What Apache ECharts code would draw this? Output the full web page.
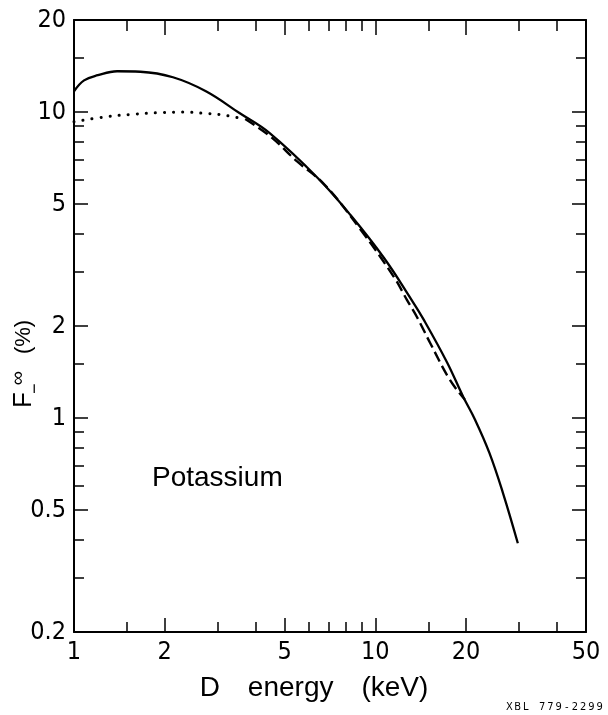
<!DOCTYPE html>
<html>
<head>
<meta charset="utf-8">
<script src="https://cdn.jsdelivr.net/npm/echarts@6/dist/echarts.min.js"></script>
<style>
html,body{margin:0;padding:0;background:#fff;}
#chart{width:608px;height:715px;}
</style>
</head>
<body>
<div id="chart"></div>
<script>
// ---- data ----
var solidX = [1, 1.08, 1.2, 1.39, 1.66, 2.13, 2.74, 3.54, 4.45, 6.45, 8.27, 10.7, 13.2, 14.5, 17.3, 19.6, 21.4, 23.9, 26.5, 29.7];
var solidY = [11.7, 12.7, 13.2, 13.6, 13.55, 13.0, 11.7, 9.93, 8.55, 6.08, 4.61, 3.33, 2.43, 2.09, 1.52, 1.17, 0.99, 0.77, 0.57, 0.39];
var dotX = [1, 1.28, 1.6, 1.88, 2.3, 2.74, 3.1, 3.36, 3.71];
var dotY = [9.3, 9.66, 9.85, 9.95, 10.0, 9.9, 9.8, 9.66, 9.5];
var dashX = [3.7, 4.5, 5.5, 6.8, 8.95, 11.5, 12.74, 13.74, 15.2, 17.7, 19.8];
var dashY = [9.5, 8.3, 6.9, 5.78, 4.12, 2.90, 2.43, 2.14, 1.76, 1.33, 1.15];

var xMajor = [1, 2, 5, 10, 20, 50];
var xMinor = [1.5, 3, 4, 6, 7, 8, 9, 15, 30, 40];
var yMajor = [0.2, 0.5, 1, 2, 5, 10, 20];
var yMinor = [0.3, 0.4, 0.6, 0.7, 0.8, 0.9, 1.5, 3, 4, 6, 7, 8, 9, 15];

var xName = 'D\u2003energy\u2003(keV)';
var yName = '{f|F}{b|\u2212}{s|\u221E}{p|\u2002 (%)}';
var annotation = 'Potassium';
var code = 'XBL 779-2299';

function zip(a, b) { return a.map(function (v, i) { return [v, b[i]]; }); }

var tickFont = "'Liberation Sans Narrow','DejaVu Sans Condensed',sans-serif";
var textFont = "'Liberation Sans','Arial',sans-serif";
function fmt(v) { return String(+(+v).toPrecision(3)); }

function xAx(pos, ticks, len, withLabel, withLine) {
  return {
    type: 'log', logBase: 10, min: 1, max: 50, position: pos,
    splitLine: { show: false },
    axisLine: { show: withLine, lineStyle: { color: '#000', width: 2 } },
    axisTick: { show: true, inside: true, length: len, customValues: ticks, lineStyle: { color: '#000', width: 1.5 } },
    axisLabel: { show: withLabel, customValues: ticks, margin: 8, color: '#000', fontSize: 25, fontFamily: tickFont, formatter: fmt }
  };
}
function yAx(pos, ticks, len, withLabel, withLine) {
  return {
    type: 'log', logBase: 10, min: 0.2, max: 20, position: pos,
    splitLine: { show: false },
    axisLine: { show: withLine, lineStyle: { color: '#000', width: 2 } },
    axisTick: { show: true, inside: true, length: len, customValues: ticks, lineStyle: { color: '#000', width: 1.5 } },
    axisLabel: { show: withLabel, customValues: ticks, margin: 8, color: '#000', fontSize: 25, fontFamily: tickFont, formatter: fmt }
  };
}

var xAxes = [
  xAx('bottom', xMajor, 14, true, true),
  xAx('bottom', xMinor, 10, false, false),
  xAx('top', xMajor, 15, false, true),
  xAx('top', xMinor, 11, false, false)
];
xAxes[0].name = xName;
xAxes[0].nameLocation = 'middle';
xAxes[0].nameGap = 42;
xAxes[0].nameMoveOverlap = false;
xAxes[0].nameTextStyle = { fontSize: 28, fontFamily: textFont, color: '#000', padding: [0, 32, 0, 0] };

var yAxes = [
  yAx('left', yMajor, 14, true, true),
  yAx('left', yMinor, 10, false, false),
  yAx('right', yMajor, 14, false, true),
  yAx('right', yMinor, 10, false, false)
];
yAxes[0].name = yName;
yAxes[0].nameLocation = 'middle';
yAxes[0].nameRotate = 90;
yAxes[0].nameGap = 30;
yAxes[0].nameMoveOverlap = false;
yAxes[0].nameTextStyle = {
  color: '#000', padding: [0, 76, 0, 0],
  rich: {
    f: { fontSize: 26, fontFamily: textFont, color: '#000', lineHeight: 40, verticalAlign: 'middle' },
    b: { fontSize: 18, fontFamily: textFont, color: '#000', verticalAlign: 'bottom', width: 7, align: 'left' },
    s: { fontSize: 20, fontFamily: textFont, color: '#000', verticalAlign: 'top', padding: [4, 0, 0, 0], width: 14, align: 'left' },
    p: { fontSize: 22, fontFamily: textFont, color: '#000', lineHeight: 40, verticalAlign: 'middle' }
  }
};

var codeRich = code.split('').map(function (ch) { return '{c|' + ch + '}'; }).join('');

var option = {
  animation: false,
  backgroundColor: '#fff',
  grid: { left: 74, right: 22, top: 20, bottom: 83, outerBoundsMode: 'none' },
  xAxis: xAxes,
  yAxis: yAxes,
  series: [
    { type: 'line', name: 'solid', data: zip(solidX, solidY), smooth: 0.4, showSymbol: false,
      lineStyle: { color: '#000', width: 2.3, type: 'solid' } },
    { type: 'line', name: 'dotted', data: zip(dotX, dotY), smooth: 0.4, showSymbol: false,
      lineStyle: { color: '#000', width: 3, type: [0.1, 9], cap: 'round' } },
    { type: 'line', name: 'dashed', data: zip(dashX, dashY), smooth: 0.4, showSymbol: false,
      lineStyle: { color: '#000', width: 2.4, type: [11, 5] } }
  ],
  graphic: [
    { type: 'text', left: 152, top: 464, style: { text: annotation, fontSize: 28, fontFamily: textFont, fill: '#000' } },
    { type: 'text', left: 506, top: 702, style: { text: codeRich, rich: { c: { fontSize: 11, fontFamily: tickFont, color: '#333', width: 8.2, align: 'center' } } } }
  ]
};

var chart = echarts.init(document.getElementById('chart'), null, { renderer: 'canvas' });
chart.setOption(option);
</script>
</body>
</html>
